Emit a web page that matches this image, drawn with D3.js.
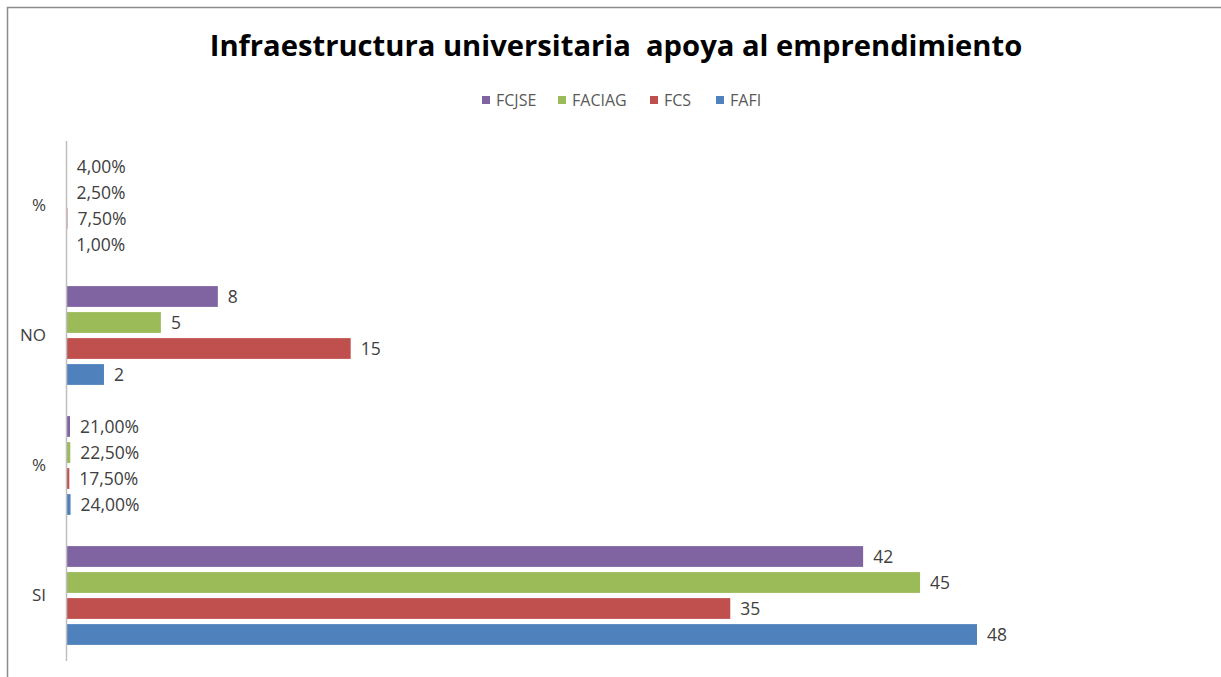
<!DOCTYPE html>
<html><head><meta charset="utf-8">
<script src="https://cdn.jsdelivr.net/npm/d3@7"></script>
<style>
html,body{margin:0;padding:0;background:#fff;}
svg{display:block;font-family:"Open Sans","Noto Sans",sans-serif;}
</style></head>
<body>
<svg id="chart" width="1221" height="677"></svg>
<script>
// ---- data ----
const title = "Infraestructura universitaria  apoya al emprendimiento";
const categories = ["SI", "%", "NO", "%"];          // bottom to top
const series = ["FAFI", "FCS", "FACIAG", "FCJSE"];  // bottom to top within group
const colors = ["#4f81bd", "#c0504d", "#9bbb59", "#8064a2"];
const FAFI   = [48, 0.24, 2, 0.01];
const FCS    = [35, 0.175, 15, 0.075];
const FACIAG = [45, 0.225, 5, 0.025];
const FCJSE  = [42, 0.21, 8, 0.04];
const isPercent = [false, true, false, true];
const values = [FAFI, FCS, FACIAG, FCJSE];

const svg = d3.select("#chart");

// frame
svg.append("rect").attr("x", 7.5).attr("y", 7.5).attr("width", 1230).attr("height", 700)
  .attr("fill", "none").attr("stroke", "#8c8c8c").attr("stroke-width", 1.5);

// title
const t = svg.append("text").attr("x", 616).attr("y", 56).attr("text-anchor", "middle")
  .attr("font-weight", "bold").attr("font-size", 30).attr("fill", "#000")
  .style("white-space", "pre").attr("xml:space", "preserve").text(title);
const tw = t.node().getComputedTextLength();
t.attr("font-size", 30 * 813 / tw);

// scales
const catIdx = categories.map((d, i) => i);
const y0 = d3.scaleBand().domain(catIdx.slice().reverse()).range([140.5, 660.5]);
const y1 = d3.scaleBand().domain(series.slice().reverse()).range([13, 117])
  .paddingInner(0.2).paddingOuter(0.1);
const x = d3.scaleLinear().domain([0, 48]).range([66, 977]);

const fmtPct = v => (v * 100).toFixed(2).replace(".", ",") + "%";

// bars
const g = svg.append("g");
catIdx.forEach(ci => {
  const gc = g.append("g").attr("transform", `translate(0,${y0(ci)})`);
  series.forEach((s, si) => {
    const v = values[si][ci];
    gc.append("rect")
      .attr("x", x(0)).attr("y", y1(s))
      .attr("width", Math.max(0, x(v) - x(0))).attr("height", y1.bandwidth())
      .attr("fill", colors[si]);
    gc.append("text")
      .attr("x", x(v) + 10).attr("y", y1(s) + y1.bandwidth() / 2)
      .attr("dy", "0.35em").attr("font-size", 17.5).attr("fill", "#404040")
      .text(isPercent[ci] ? fmtPct(v) : v);
  });
});

// category axis
const axis = d3.axisLeft(y0).tickSize(0).tickPadding(20).tickFormat(i => categories[i]);
const ag = svg.append("g").attr("transform", `translate(${x(0)},0)`).call(axis);
ag.select(".domain").attr("stroke", "#bfbfbf").attr("stroke-width", 1.5);
ag.selectAll("text").attr("font-size", 17).attr("fill", "#404040")
  .attr("font-family", "'Open Sans','Noto Sans',sans-serif");

// legend (order: FCJSE, FACIAG, FCS, FAFI)
const legendOrder = [3, 2, 1, 0];
const legendX = [482, 558, 650, 716];
const lg = svg.append("g");
legendOrder.forEach((si, k) => {
  lg.append("rect").attr("x", legendX[k]).attr("y", 96).attr("width", 8).attr("height", 8)
    .attr("fill", colors[si]);
  lg.append("text").attr("x", legendX[k] + 14).attr("y", 100).attr("dy", "0.35em")
    .attr("font-size", 16).attr("fill", "#595959").text(series[si]);
});
</script>
</body></html>
